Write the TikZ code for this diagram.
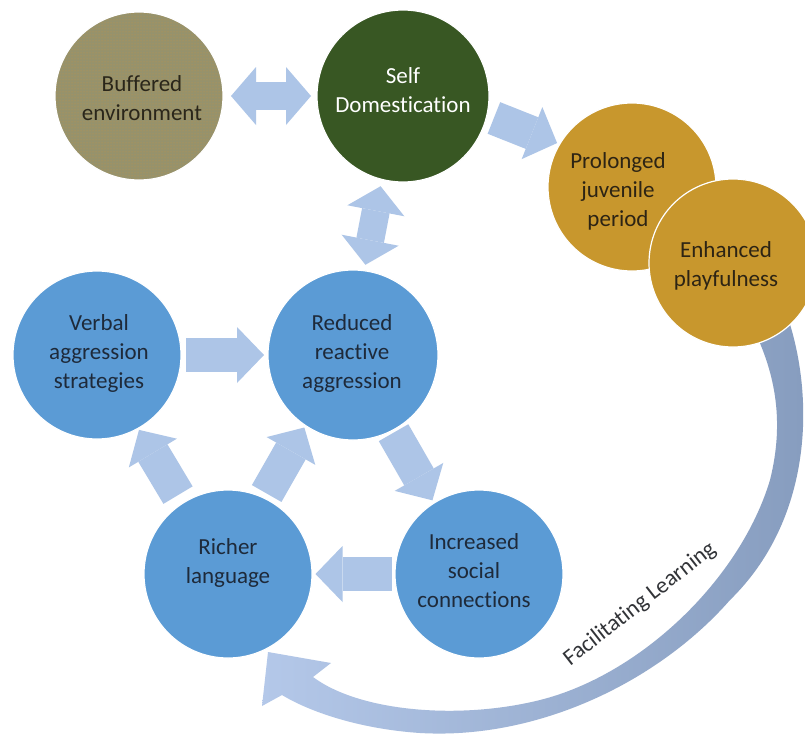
\documentclass[tikz,border=0pt]{standalone}
\usepackage{fontspec}
\setmainfont[Ligatures=NoCommon]{Carlito}
\usetikzlibrary{arrows.meta,calc,backgrounds,patterns}
\definecolor{cblue}{RGB}{91,155,213}
\definecolor{arrc}{RGB}{173,197,231}
\definecolor{cgold}{RGB}{200,151,45}
\definecolor{cgreen}{RGB}{56,87,35}
\definecolor{colive}{RGB}{150,146,108}
\definecolor{cdots}{RGB}{196,150,70}
\definecolor{tblue}{RGB}{30,42,58}
\definecolor{tgold}{RGB}{45,36,20}
\definecolor{tolive}{RGB}{42,38,26}
\definecolor{tlabel}{RGB}{50,52,56}
\definecolor{arcdark}{RGB}{134,156,190}
\definecolor{arclight}{RGB}{180,200,233}
% block arrow centred between two named nodes
\newcommand\blockarr[5]{%
  \coordinate (bm) at ($(#2)!0.5!(#3)+#5$);
  \draw[#1] let \p1=($(#3)-(#2)$), \n1={atan2(\y1,\x1)} in
     ($(bm)+(\n1:-#4)$) -- ($(bm)+(\n1:#4)$);
}
\begin{document}
\begin{tikzpicture}[x=1pt,y=-1pt,
  circ/.style={circle,inner sep=0pt,minimum size=168pt,draw=white,line width=1.2pt},
  lbl/.style={align=center,inner sep=0pt,font=\fontsize{23}{29}\selectfont},
  sarr/.style={draw=arrc,line width=34pt,
     -{Triangle[length=27pt,width=56pt,line width=0pt]}},
  darr/.style={draw=arrc,line width=28pt,
     {Triangle[length=25pt,width=58pt,line width=0pt]}-{Triangle[length=25pt,width=58pt,line width=0pt]}}]
\useasboundingbox (0,0) rectangle (805,734);

% circles
\node[circ,fill=colive] (buf) at (139,96) {};
\fill[pattern=dots,pattern color=cdots] (buf) circle[radius=83pt];
\node[circ,fill=cgreen,minimum size=172pt] (self) at (403,96) {};
\node[circ,fill=cgold] (pro) at (632,187) {};
\node[circ,fill=cgold] (enh) at (733,263) {};
\node[circ,fill=cblue] (verb) at (97,355) {};
\node[circ,fill=cblue,minimum size=170pt] (red) at (353,355) {};
\node[circ,fill=cblue] (rich) at (228,574) {};
\node[circ,fill=cblue] (inc) at (479,574) {};

% texts
\node[lbl,text=tolive] (buf-t) at (142,98) {Buffered\\environment};
\node[lbl,text=white] (self-t) at (403,90) {Self\\Domestication};
\node[lbl,text=tgold] (pro-t) at (618,191) {Prolonged\\juvenile\\period};
\node[lbl,text=tgold] (enh-t) at (726,266) {Enhanced\\playfulness};
\node[lbl,text=tblue] (verb-t) at (99,353) {Verbal\\aggression\\strategies};
\node[lbl,text=tblue] (red-t) at (352,353) {Reduced\\reactive\\aggression};
\node[lbl,text=tblue] (rich-t) at (228,563) {Richer\\language};
\node[lbl,text=tblue] (inc-t) at (474,571) {Increased\\social\\connections};
\node[rotate=38,inner sep=0pt,font=\fontsize{23}{27}\selectfont,text=tlabel] (fl) at (640,604) {Facilitating Learning};

\begin{pgfonlayer}{background}
  \fill[white] (0,0) rectangle (805,734);
  % big curved arrow from Enhanced playfulness to Richer language
  \shade[left color=arclight,right color=arcdark]
    (788,318) .. controls (815,400) and (812,520) .. (730,600)
    .. controls (660,680) and (540,740) .. (420,733)
    .. controls (360,729) and (310,712) .. (282,695)
    -- (262,706) -- (268,652) -- (331,663) -- (313,677)
    .. controls (360,712) and (460,720) .. (540,700)
    .. controls (640,675) and (740,580) .. (770,480)
    .. controls (785,420) and (775,370) .. (750,322) -- cycle;
  % block arrows
  \blockarr{darr}{buf}{self}{40pt}{(0,0)}
  \blockarr{sarr}{self}{pro}{34pt}{(8,-11)}
  \blockarr{darr}{self}{red}{40pt}{(-5,0)}
  \blockarr{sarr}{verb}{red}{39pt}{(0,0)}
  \blockarr{sarr}{red}{inc}{39pt}{(-3,2)}
  \blockarr{sarr}{inc}{rich}{38pt}{(0,0)}
  \blockarr{sarr}{rich}{verb}{38pt}{(-4,-2)}
  \blockarr{sarr}{rich}{red}{38pt}{(-5,-4)}
\end{pgfonlayer}
\end{tikzpicture}
\end{document}
